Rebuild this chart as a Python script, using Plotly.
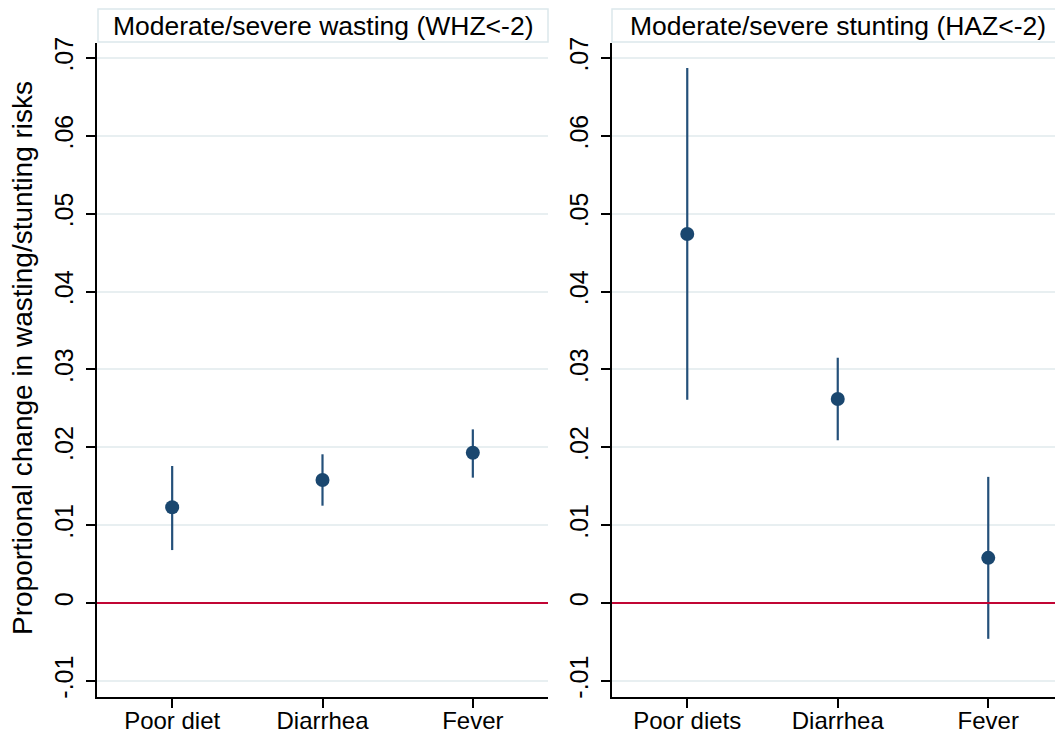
import plotly.graph_objects as go

# ---- data ----
categories_wasting = ["Poor diet", "Diarrhea", "Fever"]
wasting_est = [0.0123, 0.0158, 0.0193]
wasting_lo = [0.0068, 0.0125, 0.0161]
wasting_hi = [0.0176, 0.0191, 0.0223]

categories_stunting = ["Poor diets", "Diarrhea", "Fever"]
stunting_est = [0.0474, 0.0262, 0.0058]
stunting_lo = [0.0261, 0.0209, -0.0046]
stunting_hi = [0.0687, 0.0315, 0.0162]

ytick_vals = [-0.01, 0, 0.01, 0.02, 0.03, 0.04, 0.05, 0.06, 0.07]
ytick_text = ["-.01", "0", ".01", ".02", ".03", ".04", ".05", ".06", ".07"]

panel_titles = ["Moderate/severe wasting (WHZ<-2)", "Moderate/severe stunting (HAZ<-2)"]
y_title = "Proportional change in wasting/stunting risks"

# ---- style ----
W, H = 1055, 740
NAVY = "#1a476f"
RED = "#c10534"
GRID = "#e8eff1"
FONT = "Arial, Liberation Sans, sans-serif"

def px_x(p):
    return p / W

def px_y(p):
    return 1 - p / H

fig = go.Figure()

pos = [1, 2, 3]
for i, (est, lo, hi) in enumerate([(wasting_est, wasting_lo, wasting_hi),
                                   (stunting_est, stunting_lo, stunting_hi)]):
    xa = "x" if i == 0 else "x2"
    ya = "y" if i == 0 else "y2"
    fig.add_trace(go.Scatter(
        x=pos, y=est, xaxis=xa, yaxis=ya, mode="markers",
        marker=dict(size=14, color=NAVY),
        error_y=dict(type="data", symmetric=False,
                     array=[h - e for h, e in zip(hi, est)],
                     arrayminus=[e - l for e, l in zip(est, lo)],
                     width=0, thickness=2.2, color="#24507a"),
        showlegend=False, hoverinfo="skip",
    ))

y_top = (603 - 43) / 77.86 * 0.01
y_bot = (603 - 697) / 77.86 * 0.01
ydom = [px_y(697), px_y(43)]

common_y = dict(range=[y_bot, y_top], tickvals=ytick_vals, ticktext=ytick_text,
                tickangle=-90, showgrid=True, gridcolor=GRID, gridwidth=1.5,
                zeroline=False, showline=True, linecolor="black", linewidth=1.5,
                ticks="outside", ticklen=9, tickwidth=1.5, tickcolor="black",
                automargin=False, ticklabelstandoff=3,
                tickfont=dict(family=FONT, size=25, color="black"), domain=ydom)
common_x = dict(tickvals=pos, showgrid=False, zeroline=False, showline=True,
                linecolor="black", linewidth=1.5, ticks="outside", ticklen=9,
                tickwidth=1.5, tickcolor="black", automargin=False,
                ticklabelstandoff=-8,
                tickfont=dict(family=FONT, size=24, color="black"))

fig.update_layout(
    width=W, height=H, margin=dict(l=0, r=0, t=0, b=0, autoexpand=False),
    paper_bgcolor="white", plot_bgcolor="white",
    xaxis=dict(common_x, domain=[px_x(97), px_x(548)], range=[0.5, 3.5],
               ticktext=categories_wasting, anchor="y"),
    yaxis=dict(common_y, anchor="x"),
    xaxis2=dict(common_x, domain=[px_x(612), 1.0],
                range=[0.5, 0.5 + (1055 - 612) / 150.5],
                ticktext=categories_stunting, anchor="y2"),
    yaxis2=dict(common_y, anchor="x2"),
)

# zero reference lines
for xr, yr in [("x domain", "y"), ("x2 domain", "y2")]:
    fig.add_shape(type="line", xref=xr, yref=yr, x0=0, x1=1, y0=0, y1=0,
                  line=dict(color=RED, width=2))

# title boxes
boxes = [(98, 548), (612, 1063)]
for (bx0, bx1), t in zip(boxes, panel_titles):
    fig.add_shape(type="rect", xref="paper", yref="paper",
                  x0=px_x(bx0), x1=px_x(bx1), y0=px_y(42), y1=px_y(9),
                  line=dict(color="#dce8eb", width=1.5), fillcolor="white", layer="below")
    fig.add_annotation(xref="paper", yref="paper", x=px_x((bx0 + bx1) / 2),
                       y=px_y(25.5), text=t, showarrow=False,
                       xanchor="center", yanchor="middle",
                       font=dict(family=FONT, size=26.5, color="black"))

fig.add_annotation(xref="paper", yref="paper", x=px_x(23), y=px_y(358),
                   text=y_title, textangle=-90, showarrow=False,
                   xanchor="center", yanchor="middle",
                   font=dict(family=FONT, size=28, color="black"))

fig.write_html(
    "out.html",
    config={"displayModeBar": False},
    post_script="document.body.style.margin='0';document.body.style.overflow='hidden';",
)
